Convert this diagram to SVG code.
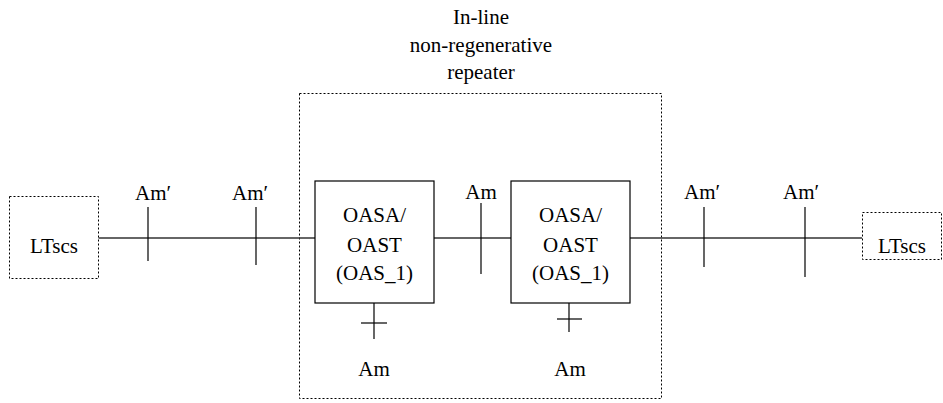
<svg xmlns="http://www.w3.org/2000/svg" width="943" height="403" viewBox="0 0 943 403">
<style>
text{font-family:"Liberation Serif","DejaVu Serif","Times New Roman",serif;font-size:21px;fill:#000}
.c{text-anchor:middle}
.dash{fill:#fff;stroke:#000;stroke-width:1;stroke-dasharray:2,2}
.box{fill:#fff;stroke:#000;stroke-width:1.2}
.ln{stroke:#333;stroke-width:1.5;fill:none}
.tk{stroke:#000;stroke-width:1.2;fill:none}
</style>
<rect width="943" height="403" fill="#fff"/>
<g id="repeater">
<rect class="dash" x="299.5" y="93.5" width="362" height="305" style="fill:none"/>
<text class="c" x="481" y="24" font-family="Liberation Serif, serif">In-line</text>
<text class="c" x="481" y="52" font-family="Liberation Serif, serif">non-regenerative</text>
<text class="c" x="481" y="79" font-family="Liberation Serif, serif">repeater</text>
</g>
<g id="connectors">
<line class="ln" x1="98" y1="238" x2="315" y2="238"/>
<line class="ln" x1="434" y1="238" x2="511" y2="238"/>
<line class="ln" x1="630" y1="238" x2="862" y2="238"/>
<line class="tk" x1="148" y1="207" x2="148" y2="261"/>
<line class="tk" x1="256" y1="207" x2="256" y2="265"/>
<line class="tk" x1="481" y1="203" x2="481" y2="274"/>
<line class="tk" x1="704" y1="207" x2="704" y2="267"/>
<line class="tk" x1="805" y1="207" x2="805" y2="277"/>
<line class="tk" x1="374" y1="303" x2="374" y2="339"/>
<line class="tk" x1="361" y1="323" x2="387" y2="323"/>
<line class="tk" x1="569" y1="303" x2="569" y2="332"/>
<line class="tk" x1="557" y1="319" x2="582" y2="319"/>
<text x="135" y="200">Am′</text>
<text x="232" y="200">Am′</text>
<text x="684" y="199">Am′</text>
<text x="783" y="199">Am′</text>
<text class="c" x="481" y="199">Am</text>
<text class="c" x="374" y="376">Am</text>
<text class="c" x="570" y="376">Am</text>
</g>
<g id="ltscs-left">
<rect class="dash" x="9.5" y="196.5" width="89" height="82"/>
<text class="c" x="54" y="253">LTscs</text>
</g>
<g id="oas-1">
<rect class="box" x="315" y="181" width="119" height="122"/>
<text class="c" x="374.5" y="222">OASA/</text>
<text class="c" x="374.5" y="252">OAST</text>
<text class="c" x="374.5" y="280">(OAS_1)</text>
</g>
<g id="oas-2">
<rect class="box" x="511" y="181" width="119" height="122"/>
<text class="c" x="570.5" y="222">OASA/</text>
<text class="c" x="570.5" y="252">OAST</text>
<text class="c" x="570.5" y="280">(OAS_1)</text>
</g>
<g id="ltscs-right">
<rect class="dash" x="862.5" y="212.5" width="79" height="47"/>
<text x="878" y="253">LTscs</text>
</g>
</svg>
